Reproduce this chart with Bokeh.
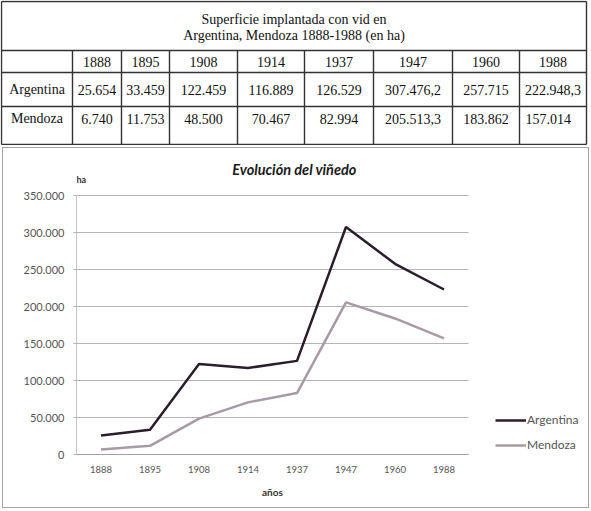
from bokeh.plotting import figure
from bokeh.models import (Range1d, ColumnDataSource, Label, Legend, LegendItem, Title,
                          FixedTicker, CustomJSTickFormatter)
from bokeh.embed import file_html
from bokeh.resources import INLINE
from bokeh.core.properties import value

# ---------------- data ----------------
years = ["1888", "1895", "1908", "1914", "1937", "1947", "1960", "1988"]
argentina = [25654, 33459, 122459, 116889, 126529, 307476.2, 257715, 222948.3]
mendoza = [6740, 11753, 48500, 70467, 82994, 205513.3, 183862, 157014]
series_names = ["Argentina", "Mendoza"]
table_title = ["Superficie implantada con vid en", "Argentina, Mendoza 1888-1988 (en ha)"]
chart_title = "Evolución del viñedo"
y_unit = "ha"
x_title = "años"
y_ticks = [0, 50000, 100000, 150000, 200000, 250000, 300000, 350000]


def es_num(v):
    s = f"{v:,.1f}" if v != int(v) else f"{int(v):,}"
    return s.replace(",", "#").replace(".", ",").replace("#", ".")


W = 591

# ---------------- table ----------------
TH = 145
col_edges = [1, 72, 121, 169, 237, 304, 373, 452, 519, 586]
row_edges = [1, 50, 72, 106, 144]

tab = figure(width=W, height=TH, x_range=Range1d(0, W), y_range=Range1d(TH, 0),
             output_backend="svg", toolbar_location=None, min_border=0)
tab.axis.visible = False
tab.grid.visible = False
tab.outline_line_color = None

x0s, y0s, x1s, y1s = [], [], [], []
for i, cx in enumerate(col_edges):
    top = row_edges[0] if i in (0, len(col_edges) - 1) else row_edges[1]
    x0s.append(cx); y0s.append(top); x1s.append(cx); y1s.append(row_edges[-1])
for ry in row_edges:
    x0s.append(col_edges[0]); y0s.append(ry); x1s.append(col_edges[-1]); y1s.append(ry)
tab.segment(x0=x0s, y0=y0s, x1=x1s, y1=y1s, line_color="#333333", line_width=1.4)

centers = [(col_edges[i] + col_edges[i + 1]) / 2 for i in range(len(col_edges) - 1)]
tx, ty, tt, ta = [], [], [], []
tx += [(col_edges[0] + col_edges[-1]) / 2] * 2
ty += [18.5, 35]
tt += table_title
ta += ["center", "center"]
for j, yr in enumerate(years):
    tx.append(centers[j + 1]); ty.append(61); tt.append(yr); ta.append("center")
for r, (name, vals, yy) in enumerate([(series_names[0], argentina, 89),
                                       (series_names[1], mendoza, 118)]):
    tx.append(centers[0]); ty.append(yy); tt.append(name); ta.append("center")
    for j, v in enumerate(vals):
        if r == 1 and j == len(vals) - 1:
            tx.append(col_edges[j + 1] + 6); ta.append("left")
        else:
            tx.append(centers[j + 1]); ta.append("center")
        ty.append(yy); tt.append(es_num(v))
tsrc = ColumnDataSource(dict(x=tx, y=ty, t=tt, a=ta))
tab.text(x="x", y="y", text="t", text_align="a", text_baseline="middle", source=tsrc,
         text_font=value("Liberation Serif"), text_font_size="14px", text_color="#111111")

# ---------------- chart ----------------
CH = 365
REF_TOP = TH
PLOT_L, PLOT_R = 76, 468          # reference px of the category axis extent
Y0_PX, Y350_PX = 454, 195         # reference px of 0 and of the top tick
n = len(years)
cat_w = (PLOT_R - PLOT_L) / n
px_per_tick = (Y0_PX - Y350_PX) / (len(y_ticks) - 1)
tick_step = y_ticks[1] - y_ticks[0]
frame_top = (Y350_PX - REF_TOP) - px_per_tick
frame_bot = Y0_PX - REF_TOP
y_end = (frame_bot - frame_top) * tick_step / px_per_tick
x_end = (W - PLOT_L) / cat_w
x_pos = [i + 0.5 for i in range(n)]


def ydat(ref_y):
    return (Y0_PX - ref_y) * tick_step / px_per_tick


def xdat(ref_x):
    return (ref_x - PLOT_L) / cat_w


chart = figure(width=W, height=CH, x_range=Range1d(0, x_end), y_range=Range1d(0, y_end),
               output_backend="svg", toolbar_location=None,
               min_border_left=PLOT_L, min_border_right=0,
               min_border_top=round(frame_top), min_border_bottom=round(CH - frame_bot))
chart.outline_line_color = None
chart.border_fill_color = None
chart.background_fill_color = None
chart.styles = {"outline": "1.5px solid #a3a3a3", "outline-offset": "-3px",
                "background-color": "white"}
chart.grid.visible = False

chart.yaxis.ticker = FixedTicker(ticks=y_ticks)
chart.yaxis.bounds = (y_ticks[0], y_ticks[-1])
chart.yaxis.formatter = CustomJSTickFormatter(
    code=r"return Math.round(tick).toString().replace(/\B(?=(\d{3})+(?!\d))/g, '.');")
chart.yaxis.axis_line_color = "#c4c4c4"
chart.yaxis.major_tick_line_color = "#b0b0b0"
chart.yaxis.major_tick_out = 3
chart.yaxis.major_tick_in = 0
chart.yaxis.minor_tick_line_color = None
chart.yaxis.major_label_standoff = 9
chart.yaxis.major_label_text_font_size = "11px"

chart.xaxis.ticker = FixedTicker(ticks=x_pos)
chart.xaxis.bounds = (0, n)
chart.xaxis.formatter = CustomJSTickFormatter(args=dict(labels=years),
                                              code="return labels[Math.floor(tick)];")
chart.xaxis.axis_line_color = "#a0a0a0"
chart.xaxis.major_tick_line_color = None
chart.xaxis.minor_tick_line_color = None
chart.xaxis.major_label_standoff = 5
chart.xaxis.major_label_text_font_size = "9.5px"
for ax in (chart.xaxis, chart.yaxis):
    ax.major_label_text_font = "Lato"
    ax.major_label_text_color = "#555555"

# axis title centred under the category span
xt_font = 10
xt_width = 2.1 * xt_font
chart.add_layout(Title(text=x_title, align="left", vertical_align="top",
                       offset=n / 2 * cat_w - xt_width / 2, standoff=20,
                       text_font="Lato", text_font_style="bold",
                       text_font_size=f"{xt_font}px", text_color="#333333"), "below")

# horizontal grid lines across the category span only
chart.segment(x0=[0] * len(y_ticks), y0=y_ticks, x1=[n] * len(y_ticks), y1=y_ticks,
              line_color="#b5b5b5", line_width=1)

r_arg = chart.line(x=x_pos, y=argentina, line_color="#2b1d2b", line_width=2.5)
r_men = chart.line(x=x_pos, y=mendoza, line_color="#a89aa4", line_width=2.5)

legend = Legend(items=[LegendItem(label=series_names[0], renderers=[r_arg]),
                       LegendItem(label=series_names[1], renderers=[r_men])],
                location=(495 - PLOT_L, 2), padding=0, margin=0, spacing=10,
                glyph_width=31, glyph_height=14, label_height=14, label_standoff=1,
                border_line_color=None, background_fill_alpha=0,
                label_text_font="Lato", label_text_font_size="12px",
                label_text_color="#555555")
chart.add_layout(legend, "center")

chart.add_layout(Label(x=xdat(294), y=ydat(169), text=chart_title, text_align="center",
                       text_baseline="middle", text_font="Lato",
                       text_font_style="bold italic", text_font_size="14.5px",
                       text_color="#1a1a1a"))
chart.add_layout(Label(x=0, y=ydat(179), text=y_unit, text_align="left",
                       text_baseline="middle", text_font="Lato", text_font_style="bold",
                       text_font_size="9px", text_color="#333333"))

open("out.html", "w").write(file_html([tab, chart], INLINE))
